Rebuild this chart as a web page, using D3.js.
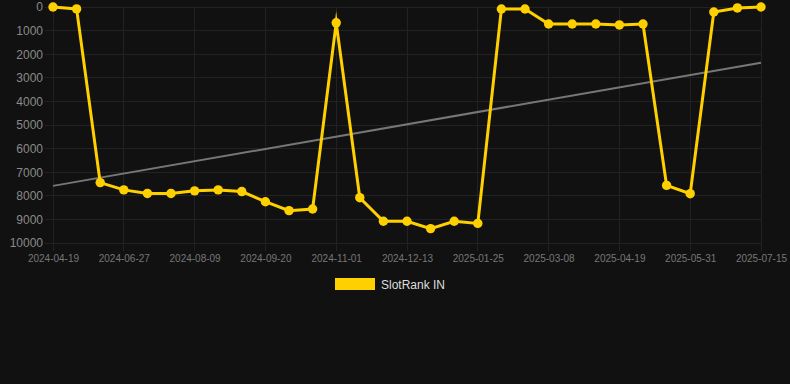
<!DOCTYPE html>
<html><head><meta charset="utf-8">
<script src="https://cdn.jsdelivr.net/npm/d3@7"></script>
<style>html,body{margin:0;padding:0;background:#111111;}svg{display:block;}</style>
</head><body>
<svg id="c" width="790" height="384"></svg>
<script>
const dates = ["2024-04-19","2024-05-03","2024-06-13","2024-06-27","2024-07-12","2024-07-26","2024-08-09","2024-08-23","2024-09-06","2024-09-20","2024-10-04","2024-10-18","2024-11-01","2024-11-15","2024-11-29","2024-12-13","2024-12-27","2025-01-10","2025-01-25","2025-02-07","2025-02-22","2025-03-08","2025-03-22","2025-04-05","2025-04-19","2025-05-03","2025-05-17","2025-05-31","2025-06-14","2025-06-28","2025-07-15"];
const rankIN = [0,80,7440,7750,7900,7900,7790,7750,7820,8250,8630,8560,670,8080,9080,9080,9390,9080,9170,85,85,720,720,720,760,720,7560,7910,210,40,0];
const trend = [7580,2360];
const yTicks = [0,1000,2000,3000,4000,5000,6000,7000,8000,9000,10000];
const seriesName = "SlotRank IN";

(function(){
const svg = d3.select("#c");
const mL = 53, mR = 761, mT = 7, mB = 243;
const font = "'Liberation Sans', Arial, Helvetica, sans-serif";
const color = "#FFD000";

const x = d3.scalePoint().domain(dates).range([mL, mR]);
const y = d3.scaleLinear().domain([0, 10000]).range([mT, mB]);

const g = svg.append("g");
g.selectAll("line.h").data(yTicks).enter().append("line")
  .attr("x1", mL - 8).attr("x2", mR)
  .attr("y1", d => y(d)).attr("y2", d => y(d))
  .attr("stroke", "#222222").attr("stroke-width", 1).attr("shape-rendering","crispEdges");
const labelled = dates.filter((d, i) => i % 3 === 0);
g.selectAll("line.v").data(labelled).enter().append("line")
  .attr("x1", d => x(d)).attr("x2", d => x(d))
  .attr("y1", mT).attr("y2", mB + 8)
  .attr("stroke", "#222222").attr("stroke-width", 1).attr("shape-rendering","crispEdges");

const yAxis = d3.axisLeft(y).tickValues(yTicks).tickSize(0).tickPadding(0).tickFormat(d3.format("d"));
const ya = svg.append("g").attr("transform", "translate(43,0)").call(yAxis);
ya.select(".domain").remove();
ya.selectAll("text").attr("fill", "#8a8a8a").style("font-family", font).style("font-size", "12px");

const xAxis = d3.axisBottom(x).tickValues(labelled).tickSize(0).tickPadding(0);
const xa = svg.append("g").attr("transform", "translate(0,255)").call(xAxis);
xa.select(".domain").remove();
xa.selectAll("text").attr("fill", "#777777").style("font-family", font).style("font-size", "10px");

svg.append("line")
  .attr("x1", x(dates[0])).attr("y1", y(trend[0]))
  .attr("x2", x(dates[dates.length-1])).attr("y2", y(trend[1]))
  .attr("stroke", "#777777").attr("stroke-width", 2);

const line = d3.line().x((d, i) => x(dates[i])).y(d => y(d));
svg.append("path").datum(rankIN)
  .attr("d", line).attr("fill", "none").attr("stroke", color)
  .attr("stroke-width", 3).attr("stroke-linejoin", "miter").attr("stroke-miterlimit", 10);

svg.selectAll("circle.p").data(rankIN).enter().append("circle")
  .attr("cx", (d, i) => x(dates[i])).attr("cy", d => y(d)).attr("r", 4.7)
  .attr("fill", color);

svg.append("rect").attr("x", 335).attr("y", 278).attr("width", 40).attr("height", 12).attr("fill", color);
svg.append("text").attr("x", 381).attr("y", 288.5).text(seriesName)
  .attr("fill", "#dddddd").style("font-family", font).style("font-size", "12px");
})();
</script>
</body></html>
